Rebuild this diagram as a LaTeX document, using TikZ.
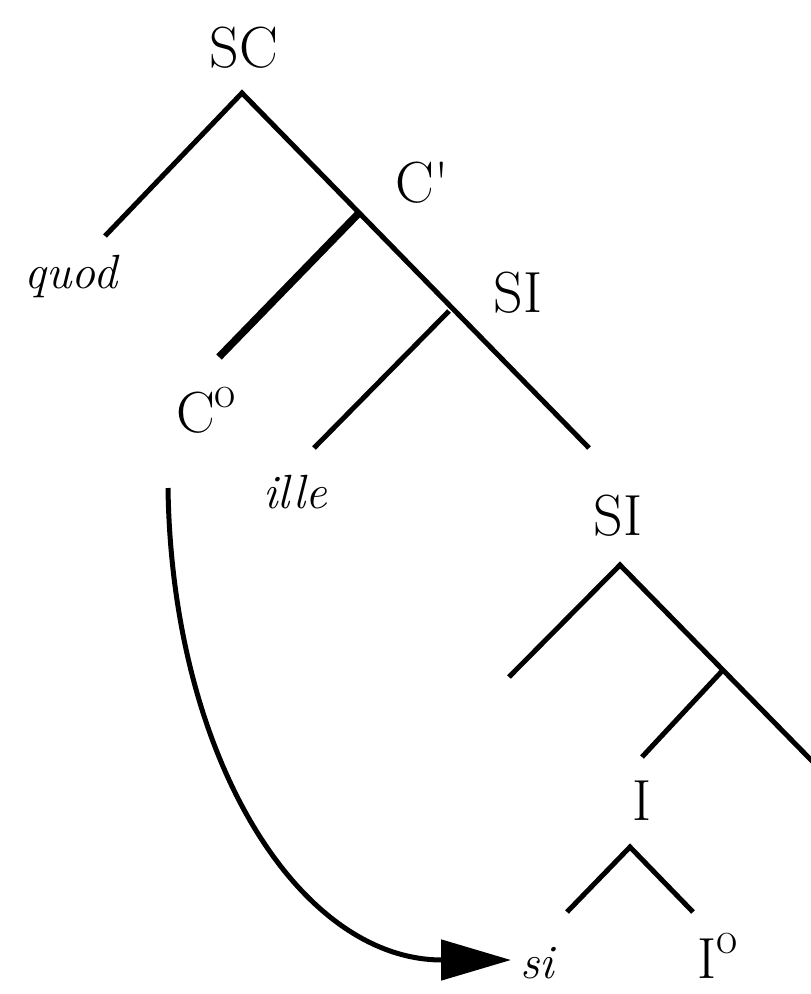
\documentclass[tikz,border=0pt]{standalone}
\usetikzlibrary{arrows.meta}
\newcommand{\supo}{\raisebox{0.42em}{\fontsize{46}{46}\selectfont o}}
\begin{document}
\begin{tikzpicture}[x=1pt,y=-1pt,
  lbl/.style={inner sep=0pt,anchor=base,font=\fontsize{58}{62}\selectfont},
  wrd/.style={inner sep=0pt,anchor=base,font=\fontsize{48}{52}\selectfont\itshape},
  branch/.style={line width=5pt,line cap=butt},
  thickbranch/.style={line width=7.5pt,line cap=butt},
  move/.style={line width=5pt,-{Triangle[length=70pt,width=40pt]}}]
\useasboundingbox (0,0) rectangle (811,994);
% labels
\node[lbl] (SC) at (244,67) {SC};
\node[wrd] (quod) at (71,288) {quod};
\node[lbl] (Cbar) at (422,202) {C\textquotesingle};
\node[lbl] (C0) at (206,432) {C\supo};
\node[lbl] (SI1) at (518,312) {SI};
\node[wrd] (ille) at (295,508) {ille};
\node[lbl] (SI2) at (618,535) {SI};
\node[lbl] (Ibar) at (642,820) {I};
\node[lbl] (I0) at (718,978) {I\supo};
\node[wrd] (si) at (537,978) {si};
% tree points
\coordinate (a1) at (242,93);
\coordinate (q) at (105,236);
\coordinate (cb) at (358,214);
\coordinate (c0) at (219,357);
\coordinate (si1) at (449,311);
\coordinate (il) at (314,448);
\coordinate (r1) at (589,448);
\coordinate (a2) at (620,565);
\coordinate (l2) at (509,677);
\coordinate (b2) at (723,670);
\coordinate (r2) at (815,764);
\coordinate (ib) at (642,757);
\coordinate (a3) at (630,847);
\coordinate (l3) at (567,912);
\coordinate (r3) at (693,912);
\coordinate (mvs) at (168,488);
\coordinate (mve) at (511,960);
% branches
\draw[branch] (q) -- (a1) -- (r1);
\draw[thickbranch] (cb) -- (c0);
\draw[branch] (si1) -- (il);
\draw[branch] (l2) -- (a2) -- (r2);
\draw[branch] (b2) -- (ib);
\draw[branch] (l3) -- (a3) -- (r3);
% movement arrow
\draw[move] (mvs) .. controls (172,760) and (300,960) .. (mve);
\end{tikzpicture}
\end{document}
